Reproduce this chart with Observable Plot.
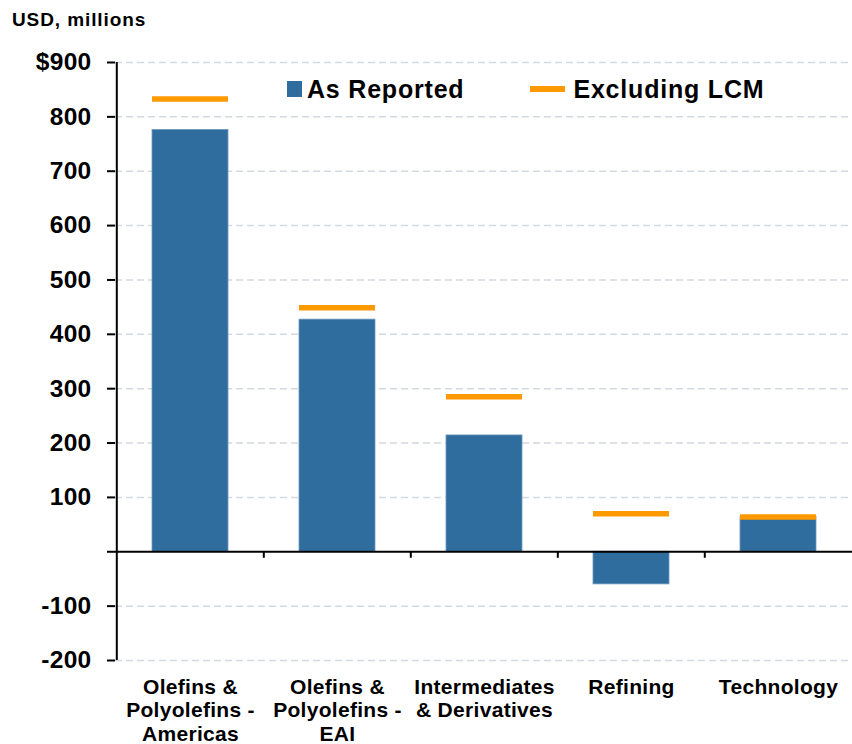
<!DOCTYPE html>
<html>
<head>
<meta charset="utf-8">
<script src="https://cdn.jsdelivr.net/npm/d3@7"></script>
<script src="https://cdn.jsdelivr.net/npm/@observablehq/plot@0.6"></script>
<style>
  html, body { margin: 0; padding: 0; background: #fff; }
  body { font-family: "Liberation Sans", Arial, sans-serif; font-weight: bold; color: #000; }
  #wrap { position: relative; width: 852px; height: 744px; overflow: hidden; }
  #title { height: 40px; position: relative; }
  #title span { position: absolute; left: 12px; top: 9px; font-size: 19px; line-height: 22px; letter-spacing: 0.9px; }
  #legend { position: absolute; left: 287px; top: 74px; height: 30px; display: flex; align-items: center; font-size: 25px; letter-spacing: 0.8px; }
  .sw-bar { width: 15px; height: 16px; background: #2E6D9E; margin-right: 5px; }
  .sw-line { width: 35px; height: 6px; background: #FF9900; margin-left: 66px; margin-right: 8px; }
  #chart svg text { letter-spacing: 0.3px; }
</style>
</head>
<body>
<div id="wrap">
  <div id="title"><span>USD, millions</span></div>
  <div id="chart"></div>
  <div id="legend"><div class="sw-bar"></div><span>As Reported</span><div class="sw-line"></div><span>Excluding LCM</span></div>
</div>
<script>
const categories = [
  "Olefins &\nPolyolefins -\nAmericas",
  "Olefins &\nPolyolefins -\nEAI",
  "Intermediates\n& Derivatives",
  "Refining",
  "Technology"
];
const asReported = [776, 427, 214, -60, 64];
const excludingLCM = [833, 449, 285, 70, 64];
const yTicks = [-200, -100, 0, 100, 200, 300, 400, 500, 600, 700, 800, 900];
const yTickLabels = ["-200", "-100", "", "100", "200", "300", "400", "500", "600", "700", "800", "$900"];
const gridValues = [-200, -100, 100, 200, 300, 400, 500, 600, 700, 800, 900];

const data = categories.map((c, i) => ({cat: c, rep: asReported[i], ex: excludingLCM[i]}));

const W = 852, H = 704, mL = 115, mR = 0;
const step = (W - mL - mR) / categories.length;
const pInner = 0.485;

const chart = Plot.plot({
  width: W,
  height: H,
  marginTop: 22,
  marginBottom: 84,
  marginLeft: mL,
  marginRight: mR,
  style: {fontFamily: "'Liberation Sans', Arial, sans-serif", fontWeight: "bold", color: "#000", background: "#fff", overflow: "visible"},
  x: {domain: categories, paddingInner: pInner, paddingOuter: pInner / 2, axis: null},
  y: {domain: [-200, 900], axis: null},
  marks: [
    Plot.ruleY(gridValues, {stroke: "#d3d9e1", strokeWidth: 1.5, strokeDasharray: "7,4"}),
    Plot.barY(data, {x: "cat", y: "rep", fill: "#2E6D9E", stroke: "#6e98bd", strokeWidth: 0.8}),
    Plot.tickY(data, {x: "cat", y: "ex", stroke: "#FF9900", strokeWidth: 5.5}),
    Plot.ruleY([0], {stroke: "#000", strokeWidth: 2}),
    Plot.ruleX(categories.slice(1), {x: d => d, y1: 0, y2: -12, dx: -step / 2, stroke: "#000", strokeWidth: 2}),
    Plot.ruleX([categories[0]], {x: d => d, y1: -200, y2: 900, dx: -step / 2, stroke: "#000", strokeWidth: 2}),
    Plot.axisY({
      ticks: yTicks,
      tickFormat: (d) => yTickLabels[yTicks.indexOf(d)],
      tickSize: 8,
      tickPadding: 16,
      fontSize: 24.5,
      fontWeight: "bold",
      strokeWidth: 2,
      label: null
    }),
    Plot.text(categories, {
      x: d => d,
      text: d => d,
      frameAnchor: "bottom",
      lineAnchor: "top",
      dy: 16,
      lineHeight: 1.14,
      fontSize: 21,
      fontWeight: "bold",
      fill: "#000"
    })
  ]
});
document.getElementById("chart").appendChild(chart);
</script>
</body>
</html>
